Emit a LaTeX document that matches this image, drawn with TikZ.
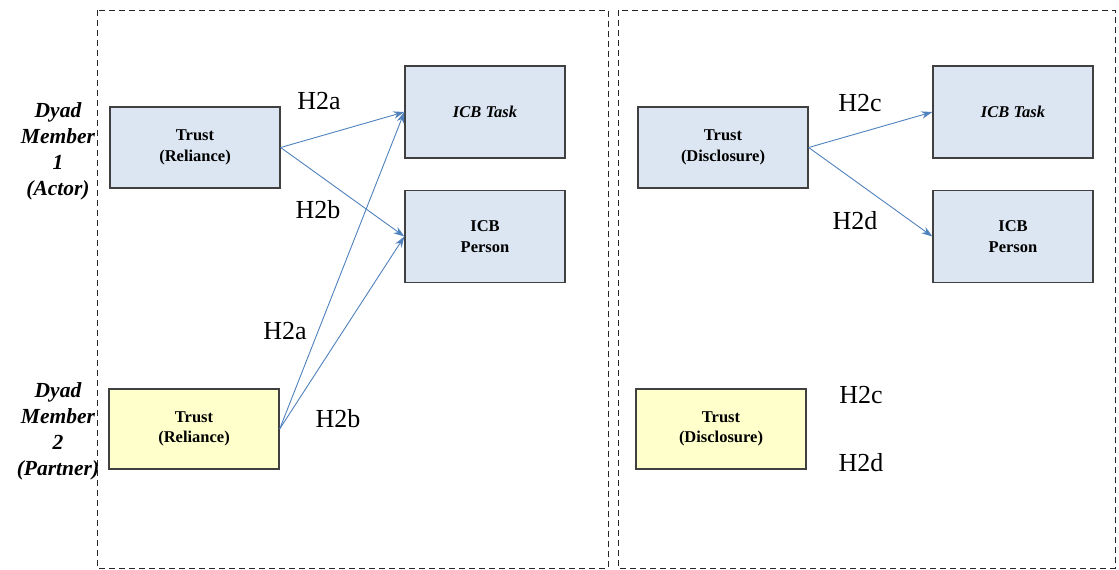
\documentclass[tikz,border=0pt]{standalone}
\usepackage{fontspec}
\setmainfont{Liberation Serif}
\usetikzlibrary{arrows.meta}
\definecolor{boxblue}{HTML}{DCE6F2}
\definecolor{boxyellow}{HTML}{FFFFCC}
\definecolor{linkblue}{HTML}{4F81BD}
\definecolor{edgegray}{HTML}{404040}
\begin{document}
\begin{tikzpicture}[x=1pt,y=-1pt,
  panel/.style={draw=black!85, line width=1pt, dash pattern=on 6pt off 4pt},
  card/.style={draw=edgegray, line width=1.3pt, minimum width=170pt, align=center,
    font=\fontsize{16.5}{20.5}\selectfont\bfseries, inner sep=0pt},
  actor/.style={card, fill=boxblue, minimum height=81pt},
  partner/.style={card, fill=boxyellow, minimum height=80pt},
  outcome/.style={card, fill=boxblue, minimum width=160pt, minimum height=92pt},
  link/.style={draw=linkblue, line width=0.9pt, -{Stealth[length=11pt,width=7.5pt]}},
  hyp/.style={font=\fontsize{26}{28}\selectfont, inner sep=0pt},
  role/.style={align=center, font=\fontsize{21.5}{26}\selectfont\bfseries\itshape, inner sep=0pt}]
\useasboundingbox (0,0) rectangle (1119,570);

% two dashed panels
\draw[panel] (97,10) rectangle (608,568);
\draw[panel] (618,10) rectangle (1115,568);

% row labels
\node[role] (r1) at (58,151) {Dyad\\Member\\1\\(Actor)};
\node[role] (r2) at (58,431) {Dyad\\Member\\2\\(Partner)};

% left panel: reliance
\node[actor]   (ra) at (195,147.5) {Trust\\(Reliance)};
\node[partner] (rp) at (194,429)   {Trust\\(Reliance)};
\node[outcome] (tl) at (485,112)   {\itshape ICB Task};
\node[outcome] (pl) at (485,236.5) {ICB\\Person};

\draw[link] (ra.east) -- (tl.west);
\draw[link] (ra.east) -- (pl.west);
\draw[link] (rp.east) -- (tl.west);
\draw[link] (rp.east) -- (pl.west);

\node[hyp] (h1) at (319,101) {H2a};
\node[hyp] (h2) at (318,210) {H2b};
\node[hyp] (h3) at (285,331) {H2a};
\node[hyp] (h4) at (338,419) {H2b};

% right panel: disclosure
\node[actor]   (da) at (723,147.5) {Trust\\(Disclosure)};
\node[partner] (dp) at (721,429)   {Trust\\(Disclosure)};
\node[outcome] (tr) at (1013,112)  {\itshape ICB Task};
\node[outcome] (pr) at (1013,236.5){ICB\\Person};

\draw[link] (da.east) -- (tr.west);
\draw[link] (da.east) -- (pr.west);

\node[hyp] (h5) at (860,103) {H2c};
\node[hyp] (h6) at (855,221) {H2d};
\node[hyp] (h7) at (861,395) {H2c};
\node[hyp] (h8) at (861,463) {H2d};
\end{tikzpicture}
\end{document}
